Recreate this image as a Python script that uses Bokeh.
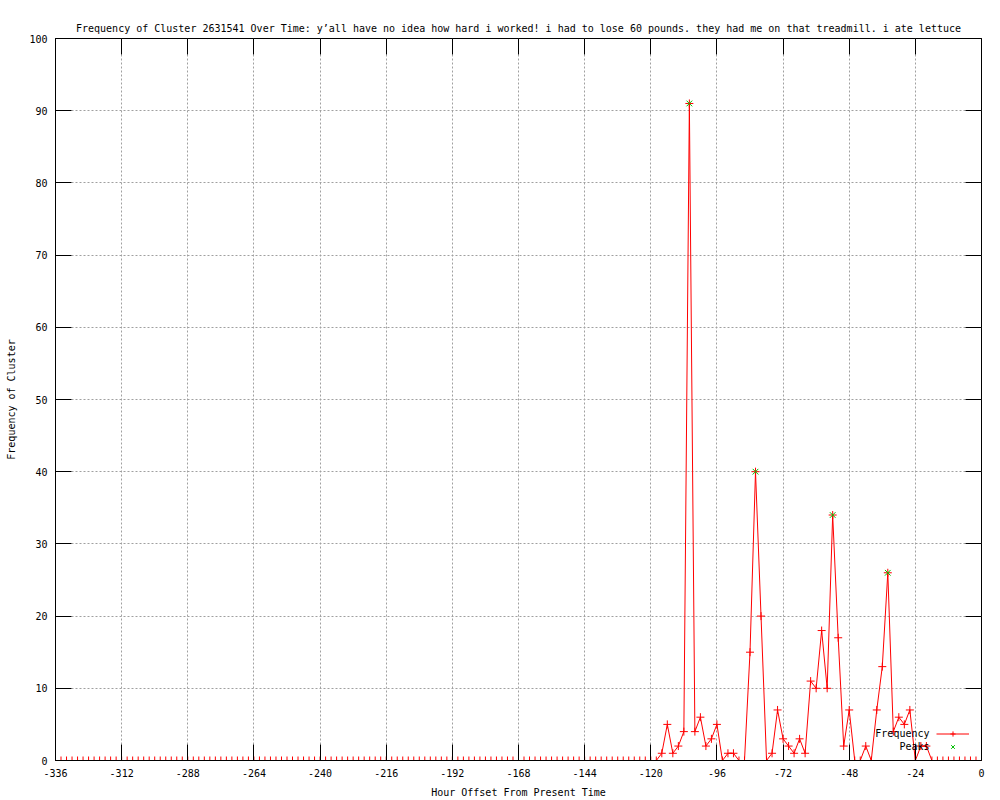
from bokeh.plotting import figure
from bokeh.models import Range1d, FixedTicker, LinearAxis, Legend, LegendItem, Label
from bokeh.embed import file_html
from bokeh.resources import INLINE

# ---- data (2-hour bins, hour offset from present) ----
hours = list(range(-336, 1, 2))
freq = [
    0, 0, 0, 0, 0, 0, 0, 0, 0, 0,   # -336 .. -318
    0, 0, 0, 0, 0, 0, 0, 0, 0, 0,   # -316 .. -298
    0, 0, 0, 0, 0, 0, 0, 0, 0, 0,   # -296 .. -278
    0, 0, 0, 0, 0, 0, 0, 0, 0, 0,   # -276 .. -258
    0, 0, 0, 0, 0, 0, 0, 0, 0, 0,   # -256 .. -238
    0, 0, 0, 0, 0, 0, 0, 0, 0, 0,   # -236 .. -218
    0, 0, 0, 0, 0, 0, 0, 0, 0, 0,   # -216 .. -198
    0, 0, 0, 0, 0, 0, 0, 0, 0, 0,   # -196 .. -178
    0, 0, 0, 0, 0, 0, 0, 0, 0, 0,   # -176 .. -158
    0, 0, 0, 0, 0, 0, 0, 0, 0, 0,   # -156 .. -138
    0, 0, 0, 0, 0, 0, 0, 0, 0,      # -136 .. -120
    0, 1, 5, 1, 2, 4, 91, 4, 6, 2,  # -118 .. -100
    3, 5, 0, 1, 1, 0, 0, 15, 40, 20,  # -98 .. -80
    0, 1, 7, 3, 2, 1, 3, 1, 11, 10,   # -78 .. -60
    18, 10, 34, 17, 2, 7, 0, 0, 2, 0,  # -58 .. -40
    7, 13, 26, 4, 6, 5, 7, 0, 2, 2,    # -38 .. -20
    0, 0, 0, 0, 0, 0, 0, 0, 0, 0,      # -18 .. 0
]
peak_hours = [-106, -82, -54, -34]
peak_values = [91, 40, 34, 26]
x_ticks = list(range(-336, 1, 24))
y_ticks = list(range(0, 101, 10))

title_text = ("Frequency of Cluster 2631541 Over Time: y\u2019all have no idea how hard i worked! "
              "i had to lose 60 pounds. they had me on that treadmill. i ate lettuce")

FONT = "DejaVu Sans Mono"
FS = "10px"

p = figure(width=995, height=800, output_backend="svg", toolbar_location=None,
           x_range=Range1d(-336, 0), y_range=Range1d(0, 100),
           min_border_left=55, min_border_right=14, min_border_top=38, min_border_bottom=40,
           x_axis_label="Hour Offset From Present Time", y_axis_label="Frequency of Cluster")

p.title.text = title_text
p.title.text_font = FONT
p.title.text_font_size = FS
p.title.text_font_style = "normal"
p.title.align = "center"
p.title.text_color = "black"

p.background_fill_color = "white"
p.border_fill_color = "white"
p.outline_line_color = "black"
p.outline_line_width = 1

for ax in (p.xaxis[0], p.yaxis[0]):
    ax.major_label_text_font = FONT
    ax.major_label_text_font_size = FS
    ax.major_label_text_color = "black"
    ax.axis_label_text_font = FONT
    ax.axis_label_text_font_size = FS
    ax.axis_label_text_font_style = "normal"
    ax.axis_label_text_color = "black"
    ax.major_tick_in = 16
    ax.major_tick_out = 0
    ax.minor_tick_in = 0
    ax.minor_tick_out = 0
    ax.major_tick_line_color = "black"
    ax.axis_line_color = "black"
    ax.major_label_standoff = 8

p.xaxis[0].ticker = FixedTicker(ticks=x_ticks)
p.yaxis[0].ticker = FixedTicker(ticks=y_ticks)
p.xaxis[0].major_label_overrides = {t: str(t) for t in x_ticks}
p.yaxis[0].major_label_overrides = {t: str(t) for t in y_ticks}
p.xaxis[0].axis_label_standoff = 7
p.yaxis[0].axis_label_standoff = 9

# mirrored ticks on top and right (labels not drawn)
top_ax = LinearAxis(ticker=FixedTicker(ticks=x_ticks), major_tick_in=16, major_tick_out=0,
                    minor_tick_in=0, minor_tick_out=0, major_label_text_font_size="1px",
                    major_label_text_color=None,
                    major_label_standoff=0, axis_line_color=None, major_tick_line_color="black")
right_ax = LinearAxis(ticker=FixedTicker(ticks=y_ticks), major_tick_in=16, major_tick_out=0,
                      minor_tick_in=0, minor_tick_out=0, major_label_text_font_size="1px",
                      major_label_text_color=None,
                      major_label_standoff=0, axis_line_color=None, major_tick_line_color="black")
p.add_layout(top_ax, "above")
p.add_layout(right_ax, "right")

p.xgrid.ticker = FixedTicker(ticks=x_ticks)
p.ygrid.ticker = FixedTicker(ticks=y_ticks)
for g in (p.xgrid[0], p.ygrid[0]):
    g.grid_line_color = "#a0a0a0"
    g.grid_line_dash = "2 2"
    g.grid_line_width = 1

line_r = p.line(hours, freq, line_color="#ff0000", line_width=1)
pts_r = p.scatter(hours, freq, marker="cross", size=8, line_color="#ff0000", line_width=1)
peak_r = p.scatter(peak_hours, peak_values, marker="x", size=8, line_color="#00c000", line_width=1)

legend = Legend(items=[LegendItem(label="Frequency", renderers=[line_r, pts_r]),
                       LegendItem(label="Peaks", renderers=[peak_r])],
                location=(881, 7), padding=0, margin=0, spacing=0,
                glyph_width=33, glyph_height=13, label_height=13, label_width=0,
                label_standoff=0, label_text_font_size="1px", label_text_color=None,
                background_fill_alpha=0, border_line_alpha=0)
p.add_layout(legend)

p.add_layout(Label(x=874, y=27, x_units="screen", y_units="screen", text="Frequency",
                   text_align="right", text_baseline="middle",
                   text_font=FONT, text_font_size=FS, text_color="black"))
p.add_layout(Label(x=874, y=14, x_units="screen", y_units="screen", text="Peaks",
                   text_align="right", text_baseline="middle",
                   text_font=FONT, text_font_size=FS, text_color="black"))

open("out.html", "w").write(file_html(p, INLINE))
